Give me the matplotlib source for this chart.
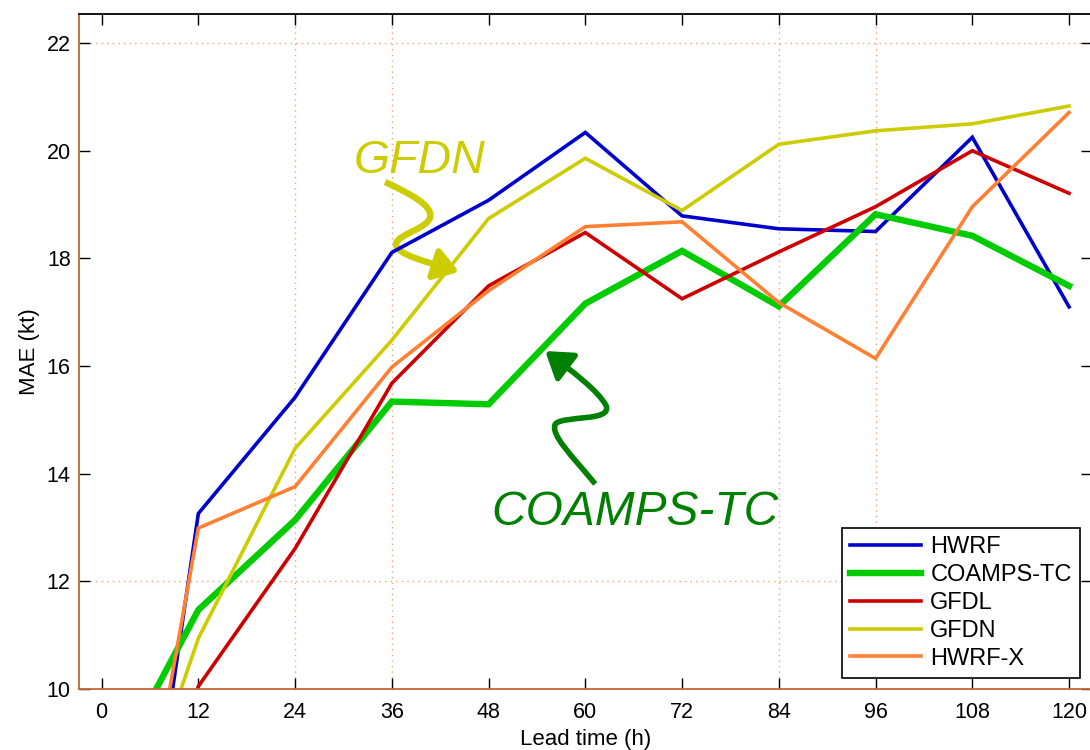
import matplotlib
matplotlib.use("Agg")
import matplotlib.pyplot as plt
from matplotlib.path import Path
from matplotlib.patches import FancyArrowPatch, ArrowStyle

plt.rcParams["font.family"] = ["Liberation Sans", "DejaVu Sans"]

# lead times (h) and MAE (kt) per model
lead = [0, 12, 24, 36, 48, 60, 72, 84, 96, 108, 120]
hwrf = [1.0, 13.26, 15.42, 18.11, 19.08, 20.34, 18.79, 18.55, 18.50, 20.25, 17.10]
coamps = [8.1, 11.47, 13.14, 15.34, 15.29, 17.16, 18.14, 17.11, 18.82, 18.42, 17.49]
gfdl = [4.0, 10.05, 12.61, 15.68, 17.49, 18.48, 17.25, 18.12, 18.96, 20.00, 19.21]
gfdn = [5.7, 10.94, 14.47, 16.48, 18.74, 19.86, 18.89, 20.12, 20.37, 20.50, 20.83]
hwrfx = [2.9, 12.99, 13.76, 15.98, 17.40, 18.59, 18.68, 17.18, 16.14, 18.96, 20.71]

series = [("HWRF", hwrf, "#0000cc", 2.6),
          ("COAMPS-TC", coamps, "#00cc00", 4.6),
          ("GFDL", gfdl, "#cc0000", 2.6),
          ("GFDN", gfdn, "#cccc00", 2.6),
          ("HWRF-X", hwrfx, "#ff8033", 2.6)]

fig = plt.figure(figsize=(10.9, 7.5), dpi=100)
ax = fig.add_axes([0.0725, 0.0813, 0.929, 0.9])

# partial dotted grid as in the original render
for gx in [24, 36, 84, 96]:
    ax.axvline(gx, color="#f5a070", lw=1, ls=(0, (1, 3)), zorder=0)
for gy in [12, 22]:
    ax.axhline(gy, color="#f5a070", lw=1, ls=(0, (1, 3)), zorder=0)

for name, vals, col, lw in series:
    ax.plot(lead, vals, color=col, lw=lw, label=name, solid_joinstyle="miter")

ax.set_xlim(-2.8, 122.8)
ax.set_ylim(10, 22.54)
ax.set_xticks(lead)
ax.set_yticks([10, 12, 14, 16, 18, 20, 22])
ax.tick_params(direction="in", length=8, width=1, top=True, right=True,
               labelsize=15.5, color="black")
ax.tick_params(axis="x", pad=9)
ax.tick_params(axis="y", pad=6)
ax.spines["top"].set_color("black")
for s in ["left", "bottom", "right"]:
    ax.spines[s].set_color("#c86432")
for s in ax.spines.values():
    s.set_linewidth(1.3)

ax.set_xlabel("Lead time (h)", fontsize=16, labelpad=5)
ax.set_ylabel("MAE (kt)", fontsize=16, labelpad=5)

# annotations
arrow_style = ArrowStyle("-|>", head_length=0.6, head_width=0.4)
gfdn_path = Path([(35.17, 19.42), (38.28, 19.20), (41.01, 18.99), (40.76, 18.77),
                  (40.51, 18.56), (36.79, 18.45), (36.54, 18.28),
                  (36.29, 18.07), (40.76, 17.92), (44.35, 17.75)],
                 [Path.MOVETO] + [Path.CURVE4] * 9)
ax.add_patch(FancyArrowPatch(path=gfdn_path, arrowstyle=arrow_style, mutation_scale=24,
                             shrinkA=0, shrinkB=0, color="#cccc00", lw=4.6,
                             joinstyle="round", capstyle="butt"))
coamps_path = Path([(61.23, 13.81), (58.37, 14.33), (55.65, 14.72), (56.27, 14.92),
                    (57.13, 15.09), (63.34, 14.96), (62.59, 15.26),
                    (61.60, 15.55), (58.13, 15.93), (55.02, 16.28)],
                   [Path.MOVETO] + [Path.CURVE4] * 9)
ax.add_patch(FancyArrowPatch(path=coamps_path, arrowstyle=arrow_style, mutation_scale=26,
                             shrinkA=0, shrinkB=0, color="#008000", lw=4.0,
                             joinstyle="round", capstyle="butt"))
ax.text(31.33, 19.59, "GFDN", color="#cccc00", fontsize=33.5, style="italic",
        ha="left", va="baseline")
ax.text(48.3, 13.05, "COAMPS-TC", color="#008000", fontsize=34.5, style="italic",
        ha="left", va="baseline")

leg = ax.legend(loc="lower right", bbox_to_anchor=(1080 / 1090, 72 / 750),
                bbox_transform=fig.transFigure, borderaxespad=0, fontsize=17,
                handlelength=3.0, labelspacing=0.25, fancybox=False, framealpha=1,
                edgecolor="black", borderpad=0.35, handletextpad=0.4)
leg.get_frame().set_linewidth(1.2)

fig.savefig("out.png", dpi=100)
